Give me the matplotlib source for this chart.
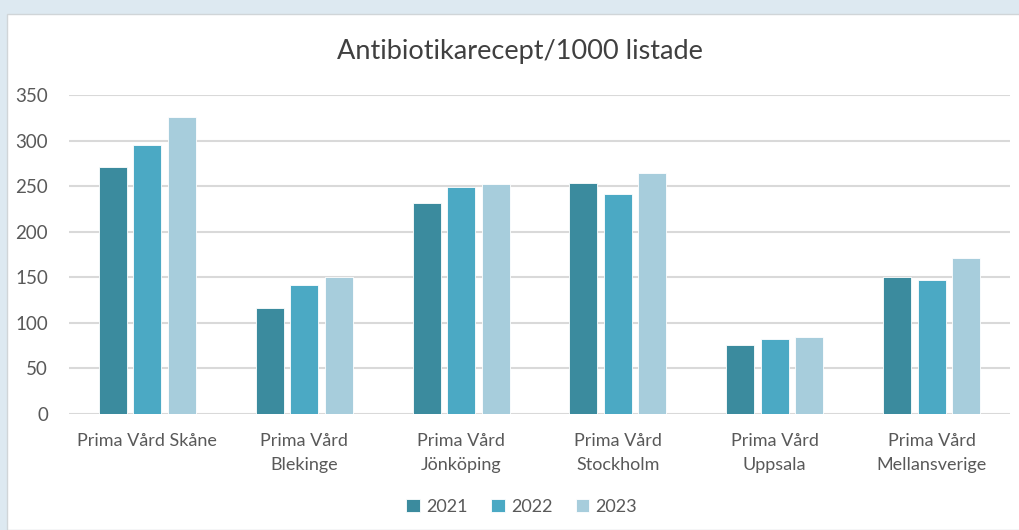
import matplotlib.pyplot as plt
from matplotlib.patches import Rectangle
import numpy as np

categories = ['Prima Vård Skåne', 'Prima Vård\nBlekinge', 'Prima Vård\nJönköping',
              'Prima Vård\nStockholm', 'Prima Vård\nUppsala', 'Prima Vård\nMellansverige']
years = ['2021', '2022', '2023']
v2021 = [271, 116, 231, 253, 76, 150]
v2022 = [295, 141, 249, 241, 82, 147]
v2023 = [326, 150, 252, 264, 84, 171]
yticks = [0, 50, 100, 150, 200, 250, 300, 350]

colors = ['#3b8b9e', '#4ba9c4', '#a7cddc']
text_col = '#595959'
grid_col = '#d9d9d9'

plt.rcParams['font.family'] = ['Lato', 'DejaVu Sans']

fig = plt.figure(figsize=(10.19, 5.30), dpi=100)
fig.patch.set_facecolor('#dde9f1')
# white chart area inside the light frame
fig.patches.append(Rectangle((7 / 1019, 0), 1.0, 1 - 14 / 530, transform=fig.transFigure,
                             facecolor='white', edgecolor='#d0d5d8', linewidth=1, zorder=-5))

ax = fig.add_axes([69 / 1019, 1 - 414 / 530, (1010 - 69) / 1019, (414 - 95) / 530])
ax.set_zorder(2)
ax.set_facecolor('none')

x = np.arange(len(categories))
pitch = 0.22
width = 0.178
for i, (vals, yr) in enumerate(zip([v2021, v2022, v2023], years)):
    ax.bar(x + (i - 1) * pitch, vals, width, color=colors[i], label=yr,
           edgecolor='white', linewidth=0.6, zorder=3)

ax.set_xlim(-0.5, len(categories) - 0.5)
ax.set_ylim(0, 350)
ax.set_yticks(yticks)
ax.set_xticks(x)
ax.set_xticklabels(categories, linespacing=1.55)
ax.grid(axis='y', color=grid_col, linewidth=1.5, zorder=0)
ax.set_axisbelow(True)
for s in ax.spines.values():
    s.set_visible(False)
ax.tick_params(length=0, labelsize=13, colors=text_col)
ax.tick_params(axis='y', pad=15, labelsize=13.5)
ax.tick_params(axis='x', pad=14)

fig.text(0.51, 1 - 51 / 530, 'Antibiotikarecept/1000 listade', ha='center', va='center',
         fontsize=19.5, color='#404040')

fig.legend(loc='center', bbox_to_anchor=(0.512, 1 - 507 / 530), ncol=3, frameon=False,
           fontsize=13, labelcolor=text_col, handlelength=0.75, handleheight=0.75,
           handletextpad=0.35, columnspacing=1.3)

fig.savefig('out.png', dpi=100, facecolor=fig.get_facecolor())
